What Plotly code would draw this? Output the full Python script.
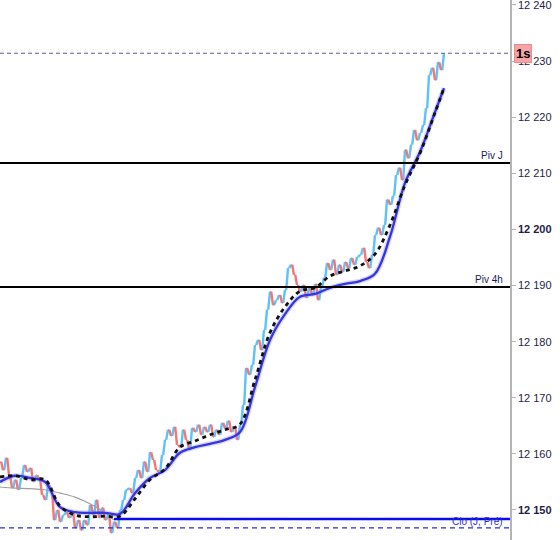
import plotly.graph_objects as go

# Tick prices (one sample per time step)
price = [
    12158.6, 12157.1, 12159.3, 12156.2, 12153.9, 12155.4, 12153.6, 12155.7, 12158.0, 12156.8,
    12157.5, 12155.0, 12156.2, 12155.4, 12152.7, 12151.8, 12154.5, 12153.2, 12148.2, 12150.0,
    12147.9, 12149.1, 12149.6, 12148.6, 12149.5, 12146.8, 12148.2, 12146.4, 12148.2, 12147.3,
    12150.9, 12149.1, 12151.8, 12148.6, 12150.4, 12148.2, 12149.1, 12145.9, 12147.9, 12146.8,
    12150.0, 12151.8, 12153.6, 12153.9, 12153.0, 12155.7, 12157.1, 12155.7, 12158.6, 12156.8,
    12160.3, 12158.9, 12157.1, 12156.8, 12159.8, 12162.5, 12164.3, 12163.2, 12164.8, 12161.6,
    12161.2, 12164.3, 12162.5, 12160.7, 12164.6, 12163.9, 12165.2, 12163.4, 12164.8, 12163.9,
    12165.2, 12163.0, 12164.3, 12163.4, 12165.5, 12164.6, 12165.9, 12163.9, 12164.8, 12162.5,
    12165.2, 12168.7, 12175.3, 12174.1, 12175.9, 12179.4, 12180.3, 12178.5, 12182.1, 12185.7,
    12188.9, 12186.5, 12187.4, 12188.3, 12186.9, 12189.2, 12193.1, 12193.7, 12191.9, 12190.1,
    12188.9, 12190.1, 12187.8, 12189.6, 12188.3, 12190.3, 12187.4, 12189.8, 12191.4, 12194.0,
    12192.8, 12194.6, 12191.9, 12193.7, 12192.4, 12194.2, 12193.1, 12194.9, 12193.7, 12195.1,
    12195.5, 12196.7, 12194.2, 12193.1, 12195.5, 12199.0, 12200.3, 12199.0, 12200.8, 12205.3,
    12204.4, 12206.0, 12209.7, 12211.0, 12208.8, 12214.2, 12212.7, 12215.1, 12217.7, 12215.9,
    12217.2, 12218.6, 12221.6, 12227.5, 12228.8, 12226.6, 12229.8, 12228.4, 12231.4,
]

# Moving averages, sampled every 5 time steps
ma_idx = [0, 5, 10, 15, 20, 25, 30, 35, 40, 45, 50, 55, 60, 65, 70, 75, 80, 85, 90, 95,
          100, 105, 110, 115, 120, 125, 130, 135, 140, 145, 148]
ma_fast = [12155.9, 12156.1, 12155.4, 12155.4, 12150.7, 12149.1, 12148.8, 12148.9, 12148.9, 12152.0,
           12155.4, 12157.3, 12161.2, 12162.3, 12163.4, 12164.3, 12165.3, 12173.2, 12181.6, 12186.2,
           12189.0, 12189.6, 12191.7, 12192.6, 12193.5, 12195.6, 12200.8, 12207.9, 12213.6, 12220.8,
           12225.2]
ma_slow = [12155.0, 12156.1, 12155.7, 12155.0, 12150.5, 12149.6, 12149.5, 12149.5, 12149.3, 12153.0,
           12155.7, 12157.1, 12160.2, 12161.2, 12161.8, 12162.5, 12163.9, 12171.9, 12180.3, 12184.9,
           12188.0, 12188.5, 12189.6, 12190.3, 12190.8, 12192.1, 12198.7, 12208.3, 12213.8, 12220.9,
           12225.2]
ma_long_idx = [0, 5, 10, 15, 20, 25, 30, 35, 38]
ma_long = [12154.1, 12153.9, 12153.8, 12153.6, 12153.0, 12152.3, 12151.1, 12149.5, 12148.2]

# Reference levels
piv_j = 12211.85
piv_4h = 12189.75
clo_prev = 12148.4
clo_start_idx = 38
low_dash = 12146.8
last_level = 12231.4

tick_vals = [12150, 12160, 12170, 12180, 12190, 12200, 12210, 12220, 12230, 12240]
tick_text = ["<b>12 150</b>", "12 160", "12 170", "12 180", "12 190",
             "<b>12 200</b>", "12 210", "12 220", "12 230", "12 240"]

y_range = [12144.65, 12240.89]
x_range = [0, 170]

# each tick move drawn as a short stroke; rising moves blue, falling moves red
up_x, up_y, dn_x, dn_y = [], [], [], []
for i in range(1, len(price)):
    if price[i] >= price[i - 1]:
        up_x += [i - 0.6, i, None]
        up_y += [price[i - 1], price[i], None]
    else:
        dn_x += [i - 0.6, i, None]
        dn_y += [price[i - 1], price[i], None]
flat_x, flat_y = [], []
for i in range(1, len(price)):
    flat_x += [i - 1, i - 0.6, None]
    flat_y += [price[i - 1], price[i - 1], None]

FONT = "Arial, Liberation Sans, sans-serif"

fig = go.Figure()
fig.add_trace(go.Scatter(x=flat_x, y=flat_y, mode="lines",
                         line=dict(color="#7fd0f8", width=1.4), hoverinfo="skip"))
fig.add_trace(go.Scatter(x=up_x, y=up_y, mode="lines",
                         line=dict(color="#5cc2f7", width=2.4), hoverinfo="skip"))
fig.add_trace(go.Scatter(x=dn_x, y=dn_y, mode="lines",
                         line=dict(color="#f77474", width=2.4), hoverinfo="skip"))
fig.add_trace(go.Scatter(x=ma_long_idx, y=ma_long, mode="lines", line_shape="spline",
                         line=dict(color="#a0a0a0", width=1.2), hoverinfo="skip"))
fig.add_trace(go.Scatter(x=ma_idx, y=ma_slow, mode="lines", line_shape="spline",
                         line=dict(color="rgba(140,140,255,0.35)", width=5), hoverinfo="skip"))
fig.add_trace(go.Scatter(x=ma_idx, y=ma_slow, mode="lines", line_shape="spline",
                         line=dict(color="#3535dd", width=2.3), hoverinfo="skip"))
fig.add_trace(go.Scatter(x=ma_idx, y=ma_fast, mode="lines", line_shape="spline",
                         line=dict(color="#111111", width=2.8, dash="4px,4px"), hoverinfo="skip"))

shapes = [
    dict(type="line", xref="paper", x0=0, x1=1, yref="y", y0=last_level, y1=last_level,
         line=dict(color="#5a5aa0", width=1, dash="4px,3px")),
    dict(type="line", xref="paper", x0=0, x1=1, yref="y", y0=piv_j, y1=piv_j,
         line=dict(color="#000000", width=2)),
    dict(type="line", xref="paper", x0=0, x1=1, yref="y", y0=piv_4h, y1=piv_4h,
         line=dict(color="#000000", width=2)),
    dict(type="line", xref="x", x0=clo_start_idx, x1=x_range[1], yref="y", y0=clo_prev, y1=clo_prev,
         line=dict(color="#0a0aee", width=2.5)),
    dict(type="line", xref="paper", x0=0, x1=1, yref="y", y0=low_dash, y1=low_dash,
         line=dict(color="#2a2ae6", width=1.3, dash="5px,4px")),
]

annotations = [
    dict(xref="paper", x=0.99, y=piv_j, yref="y", text="Piv J", showarrow=False,
         xanchor="right", yanchor="bottom", yshift=0,
         font=dict(family=FONT, size=10, color="#1a1a55")),
    dict(xref="paper", x=0.99, y=piv_4h, yref="y", text="Piv 4h", showarrow=False,
         xanchor="right", yanchor="bottom", yshift=0,
         font=dict(family=FONT, size=10, color="#1a1a55")),
    dict(xref="paper", x=0.99, y=clo_prev, yref="y", text="Clo (J, Pré)", showarrow=False,
         xanchor="right", yanchor="middle", yshift=-3,
         font=dict(family=FONT, size=10, color="#3030d0")),
    dict(xref="paper", x=1, y=last_level, yref="y", text="<b>1s</b>", showarrow=False,
         xanchor="left", yanchor="middle", xshift=4,
         bgcolor="#f5a5a5", bordercolor="#f08a8a", borderwidth=1, borderpad=1,
         font=dict(family=FONT, size=13, color="#000000")),
]

fig.update_layout(
    width=560, height=540,
    margin=dict(l=0, r=50, t=0, b=0, autoexpand=False),
    paper_bgcolor="white", plot_bgcolor="white",
    showlegend=False,
    shapes=shapes, annotations=annotations,
    xaxis=dict(range=x_range, visible=False, showgrid=False, zeroline=False),
    yaxis=dict(range=y_range, side="right", showgrid=False, zeroline=False,
               showline=True, linecolor="#b4b4b4", linewidth=1.5,
               ticks="outside", ticklen=4, tickcolor="#b4b4b4",
               tickvals=tick_vals, ticktext=tick_text, automargin=False,
               ticklabeloverflow="allow",
               tickfont=dict(family=FONT, size=11, color="#1e1e46")),
)

fig.write_html("out.html", config={"displayModeBar": False},
               post_script="document.body.style.margin='0';document.body.style.padding='0';")
